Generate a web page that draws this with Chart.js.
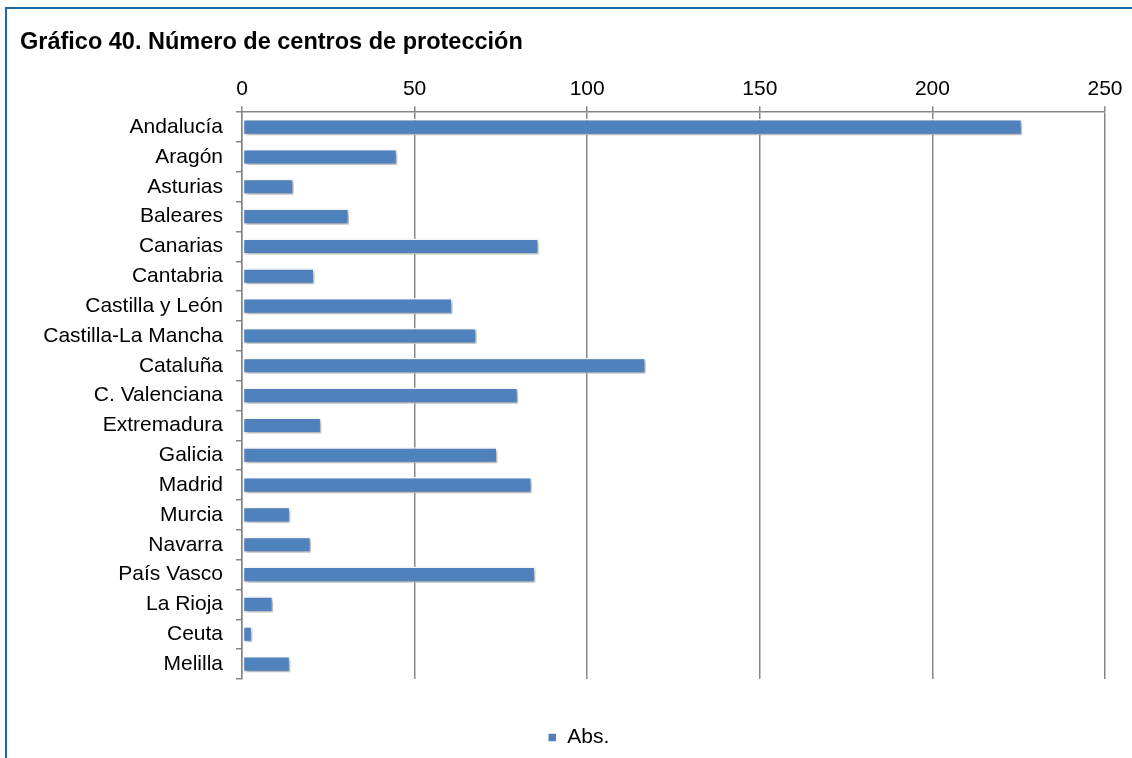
<!DOCTYPE html>
<html>
<head>
<meta charset="utf-8">
<script src="https://cdn.jsdelivr.net/npm/chart.js@4"></script>
<style>
    html, body { margin: 0; padding: 0; background: #fff; }
    #frame {
        position: absolute; left: 5px; top: 7px; width: 1127px; height: 751px;
        border-left: 2px solid #1f6aa5; border-top: 2px solid #1f6aa5;
        box-sizing: border-box;
    }
    #chartBox { position: absolute; left: 0; top: 0; width: 1132px; height: 758px; }
</style>
</head>
<body>
<div id="frame"></div>
<div id="chartBox"><canvas id="centrosChart" width="1132" height="758"></canvas></div>
<script>
    const categories = ['Andalucía', 'Aragón', 'Asturias', 'Baleares', 'Canarias', 'Cantabria',
        'Castilla y León', 'Castilla-La Mancha', 'Cataluña', 'C. Valenciana', 'Extremadura',
        'Galicia', 'Madrid', 'Murcia', 'Navarra', 'País Vasco', 'La Rioja', 'Ceuta', 'Melilla'];
    const absValues = [226, 45, 15, 31, 86, 21, 61, 68, 117, 80, 23, 74, 84, 14, 20, 85, 9, 3, 14];
    const xTicks = [0, 50, 100, 150, 200, 250];

    const barBlue = '#4f81bd';
    const gridGray = '#878787';
    const fontFamily = 'Liberation Sans, Arial, sans-serif';

    // soft drop shadow under the bars, like the office chart
    const barShadow = {
        id: 'barShadow',
        beforeDatasetsDraw(chart) {
            const ctx = chart.ctx;
            ctx.save();
            ctx.shadowColor = 'rgba(0,0,0,0.35)';
            ctx.shadowBlur = 4;
            ctx.shadowOffsetX = 2;
            ctx.shadowOffsetY = 2;
        },
        afterDatasetsDraw(chart) {
            chart.ctx.restore();
        }
    };

    // the office legend sits a bit right of the canvas centre
    const legendShift = {
        id: 'legendShift',
        afterLayout(chart) {
            if (chart.legend) {
                chart.legend.left += 16;
                chart.legend.right += 16;
            }
        }
    };

    const ctx = document.getElementById('centrosChart').getContext('2d');
    new Chart(ctx, {
        type: 'bar',
        data: {
            labels: categories,
            datasets: [{
                label: 'Abs.',
                data: absValues,
                backgroundColor: barBlue,
                borderColor: '#ffffff',
                borderWidth: 1.5,
                borderSkipped: false,
                categoryPercentage: 0.54,
                barPercentage: 1.0
            }]
        },
        options: {
            indexAxis: 'y',
            responsive: false,
            animation: false,
            layout: { padding: { left: 20, right: 27, top: 0, bottom: 0 } },
            scales: {
                x: {
                    position: 'top',
                    min: 0,
                    max: 250,
                    afterBuildTicks: (axis) => { axis.ticks = xTicks.map(v => ({ value: v })); },
                    afterFit: (axis) => { axis.height = 56; },
                    ticks: {
                        color: '#000',
                        font: { family: fontFamily, size: 21 },
                        padding: 4
                    },
                    grid: { color: gridGray, lineWidth: 1.5, tickLength: 6, drawTicks: true },
                    border: { color: gridGray, width: 1.5 }
                },
                y: {
                    offset: true,
                    afterFit: (axis) => { axis.width = 222; },
                    ticks: {
                        color: '#000',
                        font: { family: fontFamily, size: 21 },
                        padding: 13
                    },
                    grid: { offset: true, drawOnChartArea: false, color: gridGray, lineWidth: 1.5, tickLength: 6 },
                    border: { color: gridGray, width: 1.5 }
                }
            },
            plugins: {
                title: {
                    display: true,
                    text: 'Gráfico 40. Número de centros de protección',
                    align: 'start',
                    color: '#000',
                    font: { family: fontFamily, size: 23.5, weight: 'bold' },
                    padding: { top: 28, bottom: 0 }
                },
                legend: {
                    position: 'bottom',
                    labels: {
                        color: '#000',
                        font: { family: fontFamily, size: 21 },
                        boxWidth: 9,
                        boxHeight: 9,
                        padding: 48
                    }
                },
                tooltip: { enabled: false }
            }
        },
        plugins: [barShadow, legendShift]
    });
</script>
</body>
</html>
